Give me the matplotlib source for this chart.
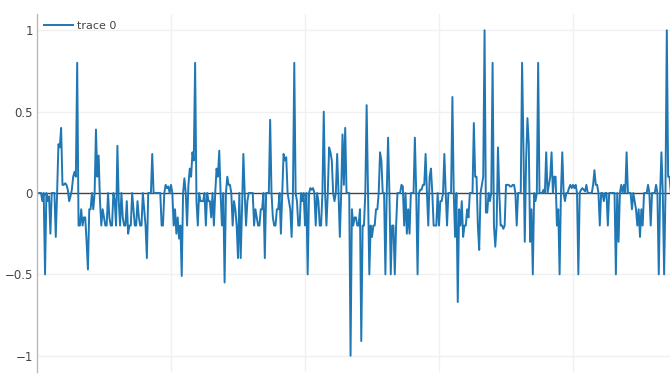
import matplotlib.pyplot as plt

# signal values for the single trace, one per sample index
values = [
    0, 0, 0, 0, -0.05, 0, -0.5, 0, -0.05, -0.02,
    -0.25, 0, 0, 0, -0.27, 0, 0.3, 0.28, 0.4, 0.05,
    0.05, 0.06, 0.05, 0.02, -0.05, -0.02, 0.02, 0.1, 0.13, 0.1,
    0.8, -0.2, -0.2, -0.1, -0.2, -0.15, -0.15, -0.3, -0.47, -0.1,
    -0.1, 0, -0.1, 0, 0.39, 0.1, 0.23, -0.05, -0.2, -0.1,
    -0.15, -0.2, -0.2, 0, -0.15, -0.2, -0.2, 0, -0.05, -0.2,
    0.29, -0.05, -0.2, 0, -0.15, -0.2, -0.2, -0.05, -0.25, -0.2,
    -0.2, 0, -0.1, -0.2, -0.2, -0.05, -0.15, -0.2, -0.2, 0,
    -0.1, -0.2, -0.4, 0, 0, 0, 0.24, 0, 0, 0,
    0, 0, 0, -0.2, -0.2, 0, 0.05, 0.03, 0.04, 0,
    0.05, 0, -0.2, -0.1, -0.25, -0.15, -0.28, -0.2, -0.51, 0,
    0.09, 0, -0.2, 0.05, 0.15, 0.1, 0.25, 0.2, 0.8, -0.05,
    -0.2, 0, -0.05, -0.05, -0.05, 0, -0.2, 0, -0.05, -0.05,
    -0.15, 0, -0.2, 0, 0.15, 0.1, 0.26, 0, -0.2, 0,
    -0.55, 0, 0.1, 0.05, 0.05, 0, -0.2, -0.05, -0.1, -0.2,
    -0.4, 0, -0.4, -0.1, 0.24, 0, -0.2, -0.05, 0, 0,
    0, 0, -0.2, -0.1, -0.15, -0.2, -0.2, -0.1, -0.1, 0,
    -0.4, 0, 0, 0, 0.45, 0, -0.15, -0.2, -0.2, -0.1,
    -0.1, 0, -0.25, 0, 0.24, 0.2, 0.22, 0, -0.05, -0.1,
    -0.27, 0, 0.8, 0, -0.05, -0.2, -0.2, 0, -0.05, 0,
    -0.2, 0, -0.5, 0, 0.03, 0.02, 0.03, 0, -0.2, 0,
    -0.05, -0.2, -0.2, 0, 0.5, 0, -0.2, 0, 0.28, 0.25,
    0.2, 0, -0.05, 0, 0.24, 0, -0.27, 0, 0.36, 0.05,
    0.4, 0, 0, 0, -1.0, -0.1, -0.2, -0.15, -0.15, -0.2,
    -0.2, -0.1, -0.91, -0.2, -0.2, 0, 0.54, 0, -0.5, -0.2,
    -0.27, -0.2, -0.2, -0.1, -0.1, 0, 0.25, 0.2, 0, 0,
    -0.5, 0, 0.34, 0, -0.5, -0.2, -0.2, -0.5, -0.2, 0,
    0, 0, 0.05, 0.04, -0.2, 0, -0.25, -0.1, -0.25, 0,
    0, 0, 0.34, 0, -0.5, 0, 0.02, 0.02, 0.05, 0.05,
    0.24, 0, -0.2, 0.1, 0.15, 0, -0.2, -0.2, -0.2, 0,
    -0.2, -0.05, -0.05, 0, 0.24, 0, -0.2, 0, 0, 0,
    0.59, 0, -0.27, 0, -0.67, -0.1, -0.2, -0.05, -0.27, -0.2,
    -0.2, -0.1, -0.15, 0, 0, 0, 0.43, 0.1, 0.1, -0.2,
    -0.35, 0, 0.05, 0.1, 1.0, -0.12, -0.12, 0, -0.05, 0,
    0.8, -0.2, -0.33, -0.2, 0.28, 0, -0.2, -0.2, -0.22, -0.2,
    0.05, 0.05, 0.05, 0.04, 0.04, 0.05, 0.05, 0, -0.2, 0,
    0, 0, 0.8, 0.3, -0.3, 0.2, 0.46, 0.3, -0.3, -0.1,
    -0.5, 0, -0.05, 0, 0.8, 0, 0, 0, 0.02, 0,
    0.25, 0, 0.05, 0.1, 0.25, 0, 0.1, 0.1, -0.2, -0.1,
    -0.5, 0, 0.25, 0, -0.05, 0, 0, 0.03, 0.05, 0.03,
    0.05, 0.03, 0.05, 0, -0.5, 0, 0.02, 0.03, 0.02, 0.01,
    0.05, 0, 0, 0, 0, 0.05, 0.14, 0.05, 0.05, 0,
    -0.2, 0, 0, -0.05, 0, 0, -0.2, 0, 0, 0,
    0, 0, -0.5, 0, -0.3, 0, 0.05, 0, 0.05, 0,
    0.25, 0, 0, 0, -0.1, 0, -0.05, -0.1, -0.2, -0.1,
    -0.27, -0.1, -0.2, 0, 0, 0, 0.05, 0, -0.2, 0,
    0, 0, 0.05, 0, -0.5, 0, 0.25, 0, -0.5, 0,
    1.0, 0.1, 0.1, 0, 0, 0,
]
index = list(range(len(values)))

y_ticks = [-1, -0.5, 0, 0.5, 1]
y_labels = ["\u22121", "\u22120.5", "0", "0.5", "1"]
x_grid = [100, 200, 300, 400]


def draw_trace():

    fig = plt.figure(figsize=(6.7, 3.74), dpi=100)
    ax = fig.add_axes([37 / 670, 2 / 374, 633 / 670, 358 / 374])

    for x in x_grid:
        ax.axvline(x, color="#f0f0f0", lw=1, zorder=0)
    for y in y_ticks:
        if y != 0:
            ax.axhline(y, color="#f0f0f0", lw=1, zorder=0)
    ax.axhline(0, color="#444444", lw=1, zorder=1)

    ax.plot(index, values, color="#1f77b4", lw=1.4,
            label="trace 0", zorder=2)

    ax.set_xlim(0, 633 / 1.34)
    ax.set_ylim(-1.1, 1.1)

    ax.set_yticks(y_ticks)
    ax.set_yticklabels(y_labels)
    ax.set_xticks([])
    ax.tick_params(axis="y", length=0, pad=3,
                   labelsize=8.5, labelcolor="#444444")

    for side in ["top", "right", "bottom"]:
        ax.spines[side].set_visible(False)
    ax.spines["left"].set_color("#bbbbbb")
    ax.spines["left"].set_linewidth(1)

    leg = ax.legend(loc="upper left", bbox_to_anchor=(0.0, 1.0),
                    frameon=False, fontsize=8, handlelength=2.6,
                    handletextpad=0.4, borderaxespad=0.2)
    for text in leg.get_texts():
        text.set_color("#444444")

    fig.savefig("out.png")
    plt.close(fig)


draw_trace()
